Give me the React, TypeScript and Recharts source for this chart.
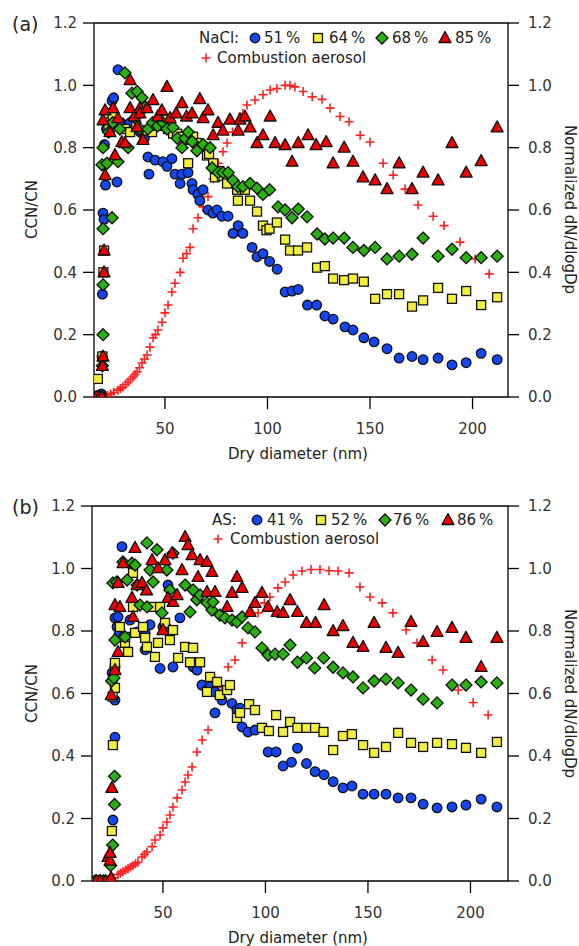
import { ReferenceLine, Scatter, ScatterChart, XAxis, YAxis } from 'recharts'

const FONT = '"DejaVu Sans", sans-serif'
const BLUE = '#1446f2'
const YELLOW = '#f2ee3a'
const GREEN = '#2ab012'
const RED = '#ee0000'
const PLUS = '#ff2020'
const EDGE = '#111'

const xTicks = [50, 100, 150, 200]
const yTicks = [0, 0.2, 0.4, 0.6, 0.8, 1.0, 1.2]

// (a) NaCl, CCN/CN vs dry diameter
const nacl51 = [
  [16.0, 0], [17.0, 0], [18.0, 0], [19.0, 0.01], [19.3, 0.13], [19.5, 0.33], [19.8, 0.59], [20.3, 0.57],
  [21.0, 0.68], [20.5, 0.81], [21.5, 0.86], [24.2, 0.95], [25.0, 0.96], [26.6, 0.69], [27.1, 1.05],
  [28.5, 0.88], [30.5, 0.87], [33.0, 0.88], [35.5, 0.86], [38.0, 0.85], [40.0, 0.83], [41.7, 0.77],
  [42.2, 0.715], [45.2, 0.76], [49.0, 0.755], [51.0, 0.74], [53.4, 0.765], [54.9, 0.715], [57.4, 0.685],
  [58.3, 0.715], [61.3, 0.72], [63.2, 0.685], [63.7, 0.665], [66.1, 0.65], [67.0, 0.63], [68.6, 0.665],
  [71.0, 0.6], [73.4, 0.59], [75.4, 0.6], [77.8, 0.58], [80.8, 0.58], [83.2, 0.525], [85.7, 0.55],
  [88.0, 0.525], [92.5, 0.48], [94.9, 0.45], [97.8, 0.46], [101.0, 0.435], [104.7, 0.41], [108.6, 0.337],
  [112.0, 0.34], [115.0, 0.345], [119.5, 0.295], [124.0, 0.295], [128.0, 0.26], [132.0, 0.25],
  [137.8, 0.225], [141.7, 0.215], [147.0, 0.19], [152.0, 0.177], [158.3, 0.155], [164.2, 0.125],
  [170.5, 0.13], [175.9, 0.12], [183.2, 0.125], [190.0, 0.103], [196.9, 0.11], [204.2, 0.14], [212.0, 0.12],
]
const nacl64 = [
  [16.0, 0], [17.0, 0], [17.3, 0.058], [18.5, 0], [19.5, 0.13], [20.0, 0.4], [20.3, 0.47], [21.7, 0.91],
  [22.5, 0.87], [24.5, 0.9], [27.5, 0.88], [30.5, 0.86], [33.0, 0.85], [36.0, 0.87], [39.3, 0.855],
  [43.7, 0.85], [46.5, 0.87], [49.0, 0.89], [51.5, 0.86], [54.0, 0.845], [55.9, 0.845], [58.3, 0.835],
  [60.8, 0.825], [61.3, 0.75], [63.7, 0.835], [65.6, 0.815], [68.5, 0.8], [70.5, 0.775], [71.5, 0.78],
  [73.5, 0.75], [74.4, 0.705], [76.5, 0.725], [77.8, 0.71], [80.3, 0.685], [85.2, 0.665], [85.6, 0.63],
  [89.0, 0.665], [91.5, 0.63], [94.9, 0.595], [97.8, 0.55], [99.5, 0.535], [101.0, 0.54], [104.6, 0.56],
  [108.6, 0.505], [111.0, 0.47], [114.9, 0.47], [119.3, 0.48], [124.2, 0.415], [128.0, 0.42],
  [132.0, 0.38], [137.4, 0.375], [141.7, 0.38], [147.0, 0.37], [152.5, 0.315], [158.3, 0.33],
  [164.2, 0.33], [170.5, 0.29], [175.9, 0.31], [183.2, 0.35], [190.0, 0.315], [196.9, 0.34],
  [204.2, 0.295], [212.0, 0.32],
]
const nacl68 = [
  [16.5, 0], [18.0, 0], [19.5, 0.1], [19.8, 0.2], [19.8, 0.36], [19.8, 0.54], [24.2, 0.575], [19.3, 0.745],
  [19.8, 0.8], [21.7, 0.75], [22.5, 0.85], [24.5, 0.88], [27.1, 0.755], [28.0, 0.86], [30.5, 1.04],
  [32.0, 0.8], [33.9, 0.975], [35.4, 0.895], [36.4, 0.98], [37.8, 0.86], [38.8, 0.96], [40.3, 0.93],
  [41.7, 0.86], [44.0, 0.88], [46.5, 0.87], [49.0, 0.88], [51.0, 0.86], [53.9, 0.865], [56.0, 0.83],
  [58.3, 0.8], [59.8, 0.83], [61.3, 0.85], [63.2, 0.82], [65.6, 0.79], [68.6, 0.81], [72.0, 0.8],
  [73.0, 0.735], [76.0, 0.72], [78.3, 0.72], [80.8, 0.72], [83.2, 0.695], [85.6, 0.675], [88.0, 0.675],
  [91.5, 0.685], [94.9, 0.67], [97.8, 0.65], [101.0, 0.665], [105.2, 0.61], [108.6, 0.6], [112.0, 0.575],
  [115.0, 0.603], [119.3, 0.578], [124.2, 0.523], [128.0, 0.507], [132.0, 0.51], [137.4, 0.51],
  [141.7, 0.48], [147.0, 0.47], [152.5, 0.48], [158.3, 0.443], [164.2, 0.452], [170.5, 0.458],
  [175.9, 0.51], [183.2, 0.452], [190.0, 0.474], [196.9, 0.447], [204.2, 0.447], [212.0, 0.452],
]
const nacl85 = [
  [16.5, 0], [18.0, 0], [19.3, 0], [19.5, 0.1], [19.8, 0.13], [20.3, 0.4], [20.3, 0.47], [20.8, 0.712],
  [19.8, 0.888], [20.8, 0.92], [23.2, 0.85], [24.7, 0.927], [25.6, 0.776], [27.1, 0.895], [29.0, 0.818],
  [30.5, 0.815], [33.0, 1.017], [33.0, 0.927], [35.0, 0.9], [36.4, 0.866], [37.8, 0.927], [37.8, 0.91],
  [39.3, 0.825], [41.2, 0.927], [44.2, 0.953], [46.5, 0.9], [48.5, 0.92], [51.0, 0.995], [52.5, 0.895],
  [55.5, 0.91], [58.3, 0.943], [60.5, 0.9], [63.2, 0.91], [67.0, 0.956], [68.6, 0.895], [71.0, 0.92],
  [73.5, 0.84], [75.9, 0.88], [78.3, 0.855], [81.7, 0.89], [85.7, 0.855], [86.6, 0.89], [89.0, 0.9],
  [91.5, 0.865], [94.9, 0.815], [97.8, 0.84], [101.3, 0.9], [103.7, 0.815], [108.6, 0.808], [112.0, 0.755],
  [115.0, 0.815], [119.8, 0.84], [123.7, 0.808], [128.6, 0.818], [132.0, 0.75], [137.4, 0.8],
  [141.7, 0.755], [146.6, 0.705], [152.5, 0.695], [158.3, 0.667], [164.2, 0.75], [170.5, 0.667],
  [175.9, 0.72], [183.2, 0.695], [190.0, 0.815], [196.9, 0.72], [204.2, 0.757], [212.0, 0.865],
]
const combustionA = [
  [17.4, 0], [19.0, 0], [20.5, 0], [22.0, 0.005], [23.5, 0.01], [25.0, 0.015], [27.1, 0.022], [28.3, 0.027],
  [29.5, 0.032], [30.8, 0.04], [32.0, 0.048], [33.2, 0.056], [34.4, 0.064], [35.4, 0.072], [36.4, 0.08],
  [37.6, 0.094], [38.8, 0.109], [40.0, 0.122], [41.3, 0.135], [42.7, 0.16], [44.2, 0.19], [45.4, 0.2],
  [46.6, 0.215], [48.6, 0.24], [50.0, 0.27], [51.5, 0.295], [53.4, 0.337], [54.9, 0.365], [57.4, 0.4],
  [58.8, 0.445], [60.5, 0.46], [62.2, 0.48], [63.7, 0.54], [66.1, 0.575], [68.5, 0.61], [71.0, 0.643],
  [73.5, 0.7], [76.0, 0.75], [78.3, 0.787], [80.3, 0.815], [83.0, 0.85], [85.5, 0.88], [88.0, 0.91],
  [90.0, 0.937], [93.9, 0.953], [97.8, 0.97], [101.3, 0.985], [104.6, 0.99], [108.6, 1.0], [111.0, 1.0],
  [113.4, 0.995], [117.4, 0.98], [121.8, 0.963], [126.6, 0.955], [130.5, 0.927], [135.4, 0.9],
  [139.8, 0.883], [145.2, 0.84], [150.0, 0.818], [156.4, 0.75], [161.3, 0.712], [167.1, 0.667],
  [173.4, 0.616], [180.8, 0.58], [186.1, 0.55], [193.9, 0.497], [201.3, 0.443], [208.1, 0.395],
]

// (b) AS, CCN/CN vs dry diameter
const as41 = [
  [16.5, 0], [17.5, 0], [18.5, 0], [19.5, 0], [20.5, 0], [21.5, 0], [22.5, 0], [23.5, 0], [25.6, 0.195],
  [26.6, 0.46], [26.6, 0.579], [25.2, 0.666], [26.6, 0.685], [27.6, 0.813], [26.6, 0.842], [28.5, 0.787],
  [28.1, 0.845], [30.0, 1.07], [30.5, 0.776], [33.9, 0.835], [37.4, 0.797], [41.3, 0.74], [41.3, 0.794],
  [43.7, 0.82], [48.6, 0.68], [50.0, 0.813], [51.9, 0.81], [52.5, 0.947], [54.9, 0.685], [58.3, 0.842],
  [64.7, 0.685], [66.6, 0.675], [69.0, 0.627], [71.5, 0.611], [73.0, 0.621], [75.4, 0.605], [75.4, 0.538],
  [78.8, 0.579], [83.7, 0.568], [86.1, 0.547], [87.6, 0.553], [88.6, 0.493], [91.5, 0.477], [94.9, 0.483],
  [101.3, 0.413], [105.2, 0.413], [108.6, 0.368], [112.7, 0.38], [115.6, 0.425], [120.0, 0.376],
  [124.2, 0.35], [128.6, 0.34], [133.0, 0.318], [137.8, 0.298], [142.2, 0.304], [147.6, 0.278],
  [153.0, 0.278], [158.8, 0.278], [164.7, 0.266], [171.0, 0.266], [176.9, 0.246], [183.7, 0.234],
  [191.0, 0.237], [197.8, 0.243], [205.2, 0.262], [212.9, 0.237],
]
const as52 = [
  [17.0, 0], [19.0, 0], [21.0, 0], [23.0, 0], [25.1, 0.16], [25.6, 0.435], [25.5, 0.59], [26.6, 0.618],
  [26.6, 0.682], [26.6, 0.698], [29.0, 0.813], [31.5, 0.762], [31.5, 0.781], [33.0, 0.733], [35.4, 0.986],
  [36.4, 0.794], [35.4, 0.877], [40.3, 0.813], [41.3, 0.778], [42.2, 0.749], [44.7, 0.877], [46.1, 0.717],
  [47.6, 0.762], [48.6, 0.877], [51.0, 0.826], [53.4, 0.771], [54.9, 0.803], [57.4, 0.714], [60.8, 0.749],
  [63.2, 0.7], [64.7, 0.746], [68.1, 0.7], [71.5, 0.605], [73.0, 0.653], [76.4, 0.637], [77.8, 0.595],
  [81.3, 0.611], [82.7, 0.627], [86.1, 0.522], [87.6, 0.538], [92.0, 0.566], [94.9, 0.547], [98.3, 0.49],
  [101.7, 0.48], [105.2, 0.531], [108.6, 0.477], [112.0, 0.509], [115.6, 0.49], [120.0, 0.49],
  [124.2, 0.49], [128.3, 0.477], [133.0, 0.419], [137.8, 0.464], [142.2, 0.47], [147.6, 0.435],
  [153.0, 0.41], [158.8, 0.429], [164.7, 0.474], [171.0, 0.442], [176.9, 0.429], [183.7, 0.442],
  [191.0, 0.438], [197.8, 0.426], [205.2, 0.41], [212.9, 0.445],
]
const as76 = [
  [17.0, 0], [19.0, 0], [21.0, 0], [24.5, 0.05], [25.5, 0.115], [26.4, 0.245], [26.4, 0.335], [25.0, 0.64],
  [26.1, 0.65], [26.6, 0.771], [25.6, 0.954], [27.5, 0.957], [30.5, 1.021], [31.5, 0.781], [32.5, 0.963],
  [34.9, 1.017], [36.4, 1.011], [37.4, 0.947], [38.8, 0.883], [42.2, 1.082], [42.2, 0.877], [43.7, 0.995],
  [45.2, 0.957], [47.1, 1.06], [49.5, 0.858], [51.9, 0.995], [53.4, 0.931], [54.9, 1.049], [60.8, 0.947],
  [63.2, 0.861], [64.7, 0.931], [66.5, 0.9], [68.1, 0.915], [71.5, 0.89], [73.9, 0.867], [74.4, 0.893],
  [77.8, 0.851], [80.3, 0.842], [83.7, 0.835], [86.1, 0.829], [88.6, 0.845], [91.5, 0.81], [94.9, 0.797],
  [98.3, 0.746], [101.3, 0.723], [104.7, 0.726], [108.6, 0.726], [112.0, 0.755], [115.6, 0.7],
  [120.0, 0.714], [124.0, 0.682], [128.4, 0.714], [133.0, 0.684], [137.8, 0.666], [142.7, 0.653],
  [147.6, 0.618], [153.0, 0.64], [158.8, 0.646], [164.7, 0.634], [171.0, 0.611], [176.9, 0.582],
  [183.7, 0.57], [191.0, 0.627], [197.8, 0.627], [205.2, 0.637], [212.9, 0.634],
]
const as86 = [
  [17.5, 0], [19.5, 0], [22.0, 0], [24.7, 0.01], [23.2, 0.077], [24.2, 0.065], [24.2, 0.09], [25.1, 0.298],
  [24.8, 0.595], [26.6, 0.675], [28.1, 0.733], [26.6, 0.883], [29.0, 0.877], [28.1, 0.954], [30.5, 1.017],
  [34.9, 0.906], [35.4, 0.845], [36.4, 1.066], [37.4, 0.947], [39.8, 0.954], [42.0, 0.93], [44.7, 1.027],
  [47.6, 1.001], [50.0, 0.803], [51.0, 1.027], [52.5, 0.906], [54.4, 1.049], [54.9, 0.893], [56.9, 0.915],
  [59.3, 0.995], [60.8, 1.101], [62.2, 1.075], [64.2, 1.043], [67.1, 0.973], [68.1, 1.027], [71.5, 1.021],
  [71.5, 0.925], [73.9, 0.989], [75.4, 0.925], [81.3, 0.877], [83.7, 0.922], [86.1, 0.973], [88.6, 0.938],
  [92.5, 0.861], [94.9, 0.89], [98.3, 0.922], [101.3, 0.877], [105.7, 0.861], [108.6, 0.858], [112.0, 0.899],
  [115.6, 0.861], [120.0, 0.826], [124.4, 0.826], [128.6, 0.883], [133.0, 0.8], [137.8, 0.816],
  [142.7, 0.762], [147.6, 0.749], [153.0, 0.826], [158.8, 0.746], [164.7, 0.73], [171.0, 0.829],
  [176.9, 0.765], [183.7, 0.797], [191.0, 0.81], [197.8, 0.778], [205.2, 0.685], [212.9, 0.778],
]
const combustionB = [
  [18.0, 0], [20.0, 0], [22.0, 0], [24.0, 0.003], [26.0, 0.01], [28.1, 0.02], [29.3, 0.025], [30.5, 0.03],
  [31.8, 0.035], [33.0, 0.04], [34.2, 0.045], [35.4, 0.05], [36.6, 0.055], [37.8, 0.06], [39.8, 0.077],
  [41.0, 0.085], [42.2, 0.093], [44.7, 0.11], [46.1, 0.131], [48.6, 0.147], [50.0, 0.17], [51.9, 0.189],
  [53.4, 0.211], [54.9, 0.237], [56.9, 0.266], [59.3, 0.291], [60.8, 0.317], [62.2, 0.339], [64.2, 0.365],
  [66.6, 0.413], [69.1, 0.451], [72.0, 0.483], [75.0, 0.54], [78.5, 0.62], [81.8, 0.685], [85.1, 0.707],
  [88.6, 0.762], [92.0, 0.81], [96.4, 0.858], [99.5, 0.89], [102.2, 0.909], [106.1, 0.938], [109.6, 0.957],
  [113.5, 0.979], [117.8, 0.992], [122.2, 0.997], [126.6, 0.997], [131.0, 0.993], [135.4, 0.992],
  [140.8, 0.986], [146.1, 0.941], [151.0, 0.909], [156.9, 0.89], [162.2, 0.858], [168.6, 0.803],
  [173.9, 0.762], [181.3, 0.707], [186.6, 0.675], [194.0, 0.611], [201.3, 0.571], [208.6, 0.531],
]

const pts = (a: number[][]) => a.map(([x, y]) => ({ x, y }))

type Kind = 'circle' | 'square' | 'diamond' | 'triangle' | 'plus'

function Marker({ kind, cx, cy }: { kind: Kind; cx: number; cy: number }) {
  if (kind === 'circle')
    return <circle cx={cx} cy={cy} r={4.8} fill={BLUE} stroke={EDGE} strokeWidth={1.3} />
  if (kind === 'square')
    return <rect x={cx - 4.5} y={cy - 4.5} width={9} height={9} fill={YELLOW} stroke={EDGE} strokeWidth={1.3} />
  if (kind === 'diamond')
    return (
      <polygon
        points={`${cx},${cy - 6} ${cx + 6},${cy} ${cx},${cy + 6} ${cx - 6},${cy}`}
        fill={GREEN}
        stroke={EDGE}
        strokeWidth={1.3}
      />
    )
  if (kind === 'triangle')
    return (
      <polygon
        points={`${cx},${cy - 6.5} ${cx + 6},${cy + 4.5} ${cx - 6},${cy + 4.5}`}
        fill={RED}
        stroke={EDGE}
        strokeWidth={1.3}
        strokeLinejoin="round"
      />
    )
  return (
    <path
      d={`M${cx - 4.5},${cy}H${cx + 4.5}M${cx},${cy - 4.5}V${cy + 4.5}`}
      stroke={PLUS}
      strokeWidth={1.6}
      fill="none"
    />
  )
}

const shape = (kind: Kind) => (p: any) => <Marker kind={kind} cx={p.cx} cy={p.cy} />

const tickStyle = { fontSize: 15, fill: '#333', fontFamily: FONT }
const fmt = (v: number) => v.toFixed(1)

interface PanelProps {
  top: number
  height: number
  plotTop: number
  plotHeight: number
  leftWidth: number
  xDomain: [number, number]
  tag: string
  title: string
  labels: string[]
  series: number[][][]
  combustion: number[][]
  legend: { title: number; items: number[]; texts: number[]; row1: number; plus: number; plusText: number; row2: number }
}

function Text({ x, y, children, size = 15 }: { x: number; y: number; children: string; size?: number }) {
  return (
    <div
      style={{
        position: 'absolute',
        left: x,
        top: y - 10,
        height: 20,
        lineHeight: '20px',
        fontSize: size,
        fontFamily: FONT,
        color: '#222',
        whiteSpace: 'nowrap',
      }}
    >
      {children}
    </div>
  )
}

function LegendIcon({ kind, x, y }: { kind: Kind; x: number; y: number }) {
  return (
    <svg style={{ position: 'absolute', left: x - 8, top: y - 8 }} width={16} height={16}>
      <Marker kind={kind} cx={8} cy={8} />
    </svg>
  )
}

const kinds: Kind[] = ['circle', 'square', 'diamond', 'triangle']

function Panel(p: PanelProps) {
  const bottom = p.height - p.plotTop - p.plotHeight
  const plotMid = p.plotTop + p.plotHeight / 2
  return (
    <div style={{ position: 'absolute', left: 0, top: p.top, width: 579, height: p.height }}>
      <ScatterChart width={579} height={p.height} margin={{ top: p.plotTop, right: 0, bottom: 0, left: 0 }}>
        <XAxis
          type="number"
          dataKey="x"
          domain={p.xDomain}
          ticks={xTicks}
          allowDataOverflow
          height={bottom}
          tickSize={12}
          tickMargin={14}
          tick={tickStyle}
          axisLine={{ stroke: '#000', strokeWidth: 1.3 }}
          tickLine={{ stroke: '#000', strokeWidth: 1.3 }}
        />
        <YAxis
          yAxisId="left"
          type="number"
          dataKey="y"
          domain={[0, 1.2]}
          ticks={yTicks}
          allowDataOverflow
          width={p.leftWidth}
          tickSize={11}
          tickMargin={6}
          tickFormatter={fmt}
          tick={tickStyle}
          axisLine={{ stroke: '#000', strokeWidth: 1.3 }}
          tickLine={{ stroke: '#000', strokeWidth: 1.3 }}
        />
        <YAxis
          yAxisId="right"
          orientation="right"
          type="number"
          dataKey="y"
          domain={[0, 1.2]}
          ticks={yTicks}
          allowDataOverflow
          width={71}
          tickSize={11}
          tickMargin={9}
          tickFormatter={fmt}
          tick={tickStyle}
          axisLine={{ stroke: '#000', strokeWidth: 1.3 }}
          tickLine={{ stroke: '#000', strokeWidth: 1.3 }}
        />
        <ReferenceLine yAxisId="left" y={1.2} stroke="#000" strokeWidth={1.3} />
        <Scatter yAxisId="right" data={pts(p.combustion)} shape={shape('plus')} isAnimationActive={false} />
        {p.series.map((s, i) => (
          <Scatter key={i} yAxisId="left" data={pts(s)} shape={shape(kinds[i])} isAnimationActive={false} />
        ))}
      </ScatterChart>

      <Text x={12} y={p.plotTop + 1} size={19}>{p.tag}</Text>
      <Text x={p.legend.title} y={p.legend.row1}>{p.title}</Text>
      {kinds.map((k, i) => (
        <LegendIcon key={k} kind={k} x={p.legend.items[i]} y={p.legend.row1} />
      ))}
      {p.labels.map((t, i) => (
        <Text key={t} x={p.legend.texts[i]} y={p.legend.row1}>{t}</Text>
      ))}
      <LegendIcon kind="plus" x={p.legend.plus} y={p.legend.row2} />
      <Text x={p.legend.plusText} y={p.legend.row2}>Combustion aerosol</Text>

      <div
        style={{
          position: 'absolute',
          left: 22,
          top: plotMid - 60,
          height: 120,
          width: 20,
          writingMode: 'vertical-rl',
          transform: 'rotate(180deg)',
          textAlign: 'center',
          fontSize: 15,
          fontFamily: FONT,
          color: '#222',
          lineHeight: '20px',
        }}
      >
        CCN/CN
      </div>
      <div
        style={{
          position: 'absolute',
          left: 560,
          top: plotMid - 100,
          height: 200,
          width: 20,
          writingMode: 'vertical-rl',
          textAlign: 'center',
          fontSize: 15,
          fontFamily: FONT,
          color: '#222',
          lineHeight: '20px',
        }}
      >
        Normalized dN/dlogDp
      </div>
      <div
        style={{
          position: 'absolute',
          left: 198,
          width: 200,
          top: p.plotTop + p.plotHeight + 47,
          textAlign: 'center',
          fontSize: 15,
          fontFamily: FONT,
          color: '#222',
          lineHeight: '20px',
        }}
      >
        Dry diameter (nm)
      </div>
    </div>
  )
}

export default function App() {
  return (
    <div style={{ position: 'relative', width: 579, height: 946, background: '#fff' }}>
      <style>{'body{margin:0}'}</style>
      <Panel
        top={0}
        height={470}
        plotTop={23}
        plotHeight={374}
        leftWidth={94}
        xDomain={[15.4, 217.3]}
        tag="(a)"
        title="NaCl:"
        labels={['51\u2009%', '64\u2009%', '68\u2009%', '85\u2009%']}
        series={[nacl51, nacl64, nacl68, nacl85]}
        combustion={combustionA}
        legend={{ title: 199, items: [255, 318, 382, 445], texts: [264, 329, 392, 455], row1: 38, plus: 206, plusText: 217, row2: 58 }}
      />
      <Panel
        top={470}
        height={476}
        plotTop={36}
        plotHeight={375}
        leftWidth={92}
        xDomain={[15.4, 218.3]}
        tag="(b)"
        title="AS:"
        labels={['41\u2009%', '52\u2009%', '76\u2009%', '86\u2009%']}
        series={[as41, as52, as76, as86]}
        combustion={combustionB}
        legend={{ title: 212, items: [257, 321, 385, 448], texts: [267, 331, 393, 457], row1: 50, plus: 218, plusText: 230, row2: 69 }}
      />
    </div>
  )
}
